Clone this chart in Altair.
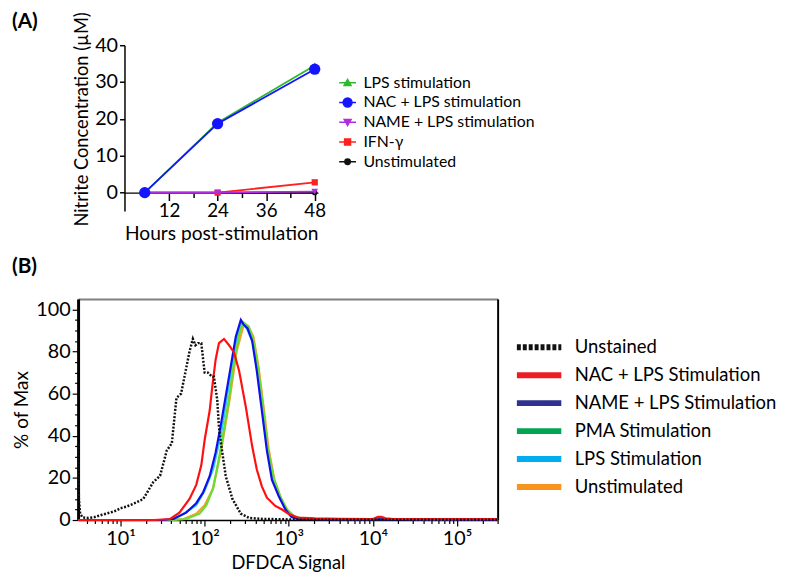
import altair as alt
import pandas as pd

FONT = "Lato"

# ---------------- Panel A data ----------------
hours = [6, 24, 48]
a_series = ["LPS stimulation", "NAC + LPS stimulation", "NAME + LPS stimulation", "IFN-γ", "Unstimulated"]
a_lps = [0, 19.0, 34.5]
a_nac = [0, 18.7, 33.5]
a_name = [0, 0.0, 0.3]
a_ifn = [0, 0.0, 2.8]
a_unst = [0, 0.0, 0.0]
a_colors = ["#2db92d", "#1414ff", "#b32de0", "#ff2020", "#111111"]
a_shapes = ["triangle-up", "circle", "triangle-down", "square", "circle"]
a_sizes = [45, 130, 45, 40, 30]
a_draw_order = [4, 3, 2, 0, 1]
a_legend_paths = [
    "M-1.7,0H1.7M-0.7,0.55L0,-0.65L0.7,0.55Z",
    "M-1.7,0H1.7M0.9,0A0.9,0.9,0,1,1,-0.9,0A0.9,0.9,0,1,1,0.9,0Z",
    "M-1.7,0H1.7M-0.7,-0.55L0,0.65L0.7,-0.55Z",
    "M-1.7,0H1.7M-0.6,-0.6H0.6V0.6H-0.6Z",
    "M-1.7,0H1.7M0.55,0A0.55,0.55,0,1,1,-0.55,0A0.55,0.55,0,1,1,0.55,0Z",
]

a_vals = [a_lps, a_nac, a_name, a_ifn, a_unst]
rows = []
for s, vals in zip(a_series, a_vals):
    for h, v in zip(hours, vals):
        rows.append({"series": s, "hours": h, "value": v})
df_a = pd.DataFrame(rows)

# ---------------- Panel B data (x as log10 of signal) ----------------
b_series = ["Unstained", "NAC + LPS Stimulation", "NAME + LPS Stimulation",
            "PMA Stimulation", "LPS Stimulation", "Unstimulated"]
b_legend_colors = ["#111111", "#ed1c24", "#2e3192", "#00a651", "#00aeef", "#f7941d"]
b_legend_dash = [[4, 2], [1, 0], [1, 0], [1, 0], [1, 0], [1, 0]]
b_plot_colors = ["#111111", "#ff1010", "#1010ee", "#66dd33", "#33c8ff", "#f5a030"]

unst_logx = [0.496, 0.505, 0.52, 0.55, 0.62, 0.69, 0.78, 0.88, 0.95, 1.0, 1.08, 1.19, 1.27,
             1.33, 1.39, 1.47, 1.51, 1.55, 1.61, 1.665, 1.72, 1.78, 1.82, 1.86, 1.89, 1.92,
             1.96, 2.0, 2.04, 2.09, 2.11, 2.15, 2.17, 2.21, 2.25, 2.33, 2.43, 2.53, 2.7,
             2.9, 3.1, 3.5, 4.5, 5.48]
unst_pct = [36, 10, 3, 1.2, 1.0, 1.4, 2.5, 3.6, 4.5, 5.6, 6.5, 8.4, 10, 14, 18, 21, 27, 33, 36.5,
            58, 60, 72, 80, 86, 83, 84, 84, 70, 70, 68, 68, 57, 44, 32, 21, 10, 3, 1.0, 0.5,
            0.4, 0.2, 0.1, 0.1, 0.1]

nac_logx = [0.496, 1.4, 1.59, 1.70, 1.82, 1.90, 1.96, 2.0, 2.06, 2.09, 2.13, 2.17, 2.23, 2.29,
            2.35, 2.41, 2.49, 2.565, 2.62, 2.68, 2.74, 2.84, 2.92, 3.0, 3.11, 3.31, 3.6,
            4.0, 4.06, 4.1, 4.15, 4.25, 5.48]
nac_pct = [0, 0, 0.5, 3.5, 10, 16.7, 26, 38, 52, 63, 76, 84, 86, 83, 79.5, 70.8, 53.6, 35,
           24, 16, 10.6, 6.7, 5, 2.8, 1.2, 0.8, 0.6, 0.5, 1.5, 1.5, 0.8, 0.5, 0.4]

name_logx = [0.496, 1.5, 1.63, 1.78, 1.90, 1.98, 2.06, 2.13, 2.19, 2.25, 2.31, 2.37, 2.43,
             2.46, 2.51, 2.565, 2.62, 2.68, 2.74, 2.80, 2.88, 2.96, 3.03, 3.1, 3.5, 4.4, 5.48]
name_pct = [0, 0, 0.5, 3.5, 8, 13, 20.8, 32, 44.6, 58.7, 72.8, 87, 95, 93, 91, 85, 70.8,
            52, 33, 19, 11.4, 5, 1.5, 0.5, 0.3, 0.3, 0.0]

pma_logx = [0.496, 1.6, 1.78, 1.94, 2.02, 2.10, 2.15, 2.21, 2.29, 2.35, 2.41, 2.455, 2.52,
            2.57, 2.63, 2.69, 2.75, 2.82, 2.90, 2.98, 3.07, 3.2, 3.8, 4.35, 5.48]
pma_pct = [0, 0, 0.5, 3, 7, 15, 25, 38, 58, 75, 88, 94, 92, 87, 74, 55, 34, 20, 11, 5, 1.5,
           0.5, 0.4, 0.5, 0.0]

lps_logx = [0.496, 1.5, 1.62, 1.75, 1.9, 2.0, 2.1, 2.2, 2.3, 2.38, 2.44, 2.5, 2.57, 2.63,
            2.69, 2.75, 2.82, 2.9, 2.98, 3.07, 3.3, 4.3, 5.48]
lps_pct = [0, 0, 0.5, 3, 7, 14, 24, 42, 67, 86, 94, 91, 85, 70, 51, 32, 18, 10, 4.5, 1.2, 0.5,
           0.5, 0.0]

uns_logx = [0.496, 1.6, 1.75, 1.9, 2.0, 2.1, 2.2, 2.3, 2.38, 2.46, 2.52, 2.58, 2.64, 2.7,
            2.76, 2.83, 2.91, 2.99, 3.08, 3.3, 4.3, 5.48]
uns_pct = [0, 0, 0.5, 3, 7, 15, 34, 58, 80, 92, 92, 87, 73, 54, 34, 19, 10, 4, 1.2, 0.5, 0.5,
           0.3]

b_curves = [(unst_logx, unst_pct), (nac_logx, nac_pct), (name_logx, name_pct),
            (pma_logx, pma_pct), (lps_logx, lps_pct), (uns_logx, uns_pct)]
b_draw_order = [5, 4, 3, 2, 1, 0]

rows = []
for s, (lx, pv) in zip(b_series, b_curves):
    for i, (x, y) in enumerate(zip(lx, pv)):
        rows.append({"series": s, "signal": 10 ** x, "pct": y, "i": i})
df_b = pd.DataFrame(rows)

decade_values = [10, 100, 1000, 10000, 100000]
decade_labels = ["10¹", "10²", "10³", "10⁴", "10⁵"]

# ---------------- Panel A chart ----------------
A_W, A_H = 243, 168
A_SHIFT = 47

xa = alt.X("hours:Q",
           scale=alt.Scale(domain=[1, 48.8], rangeMin=A_SHIFT, nice=False, zero=False),
           axis=alt.Axis(values=[6, 12, 18, 24, 30, 36, 42, 48],
                         labelExpr="datum.value % 12 == 0 ? datum.value : ''",
                         tickSize={"condition": {"test": "datum.value % 12 == 0", "value": 8}, "value": 5},
                         offset=-(5 / 45 * A_H), grid=False, labelFlush=False,
                         domainColor="black", domainWidth=1.5, tickColor="black", tickWidth=1.5,
                         labelFontSize=19, labelPadding=1, labelColor="black",
                         title="Hours post-stimulation", titleFontSize=19.4,
                         titleFontWeight="normal", titlePadding=4, titleColor="black"))
ya = alt.Y("value:Q",
           scale=alt.Scale(domain=[-5, 40], nice=False, zero=False),
           axis=alt.Axis(values=[0, 10, 20, 30, 40], offset=-A_SHIFT, grid=False,
                         domainColor="black", domainWidth=1.5, tickColor="black", tickWidth=1.5,
                         tickSize=5, labelFontSize=20, labelPadding=2, labelColor="black",
                         title="Nitrite Concentration (µM)", titleFontSize=18.5,
                         titleFontWeight="normal", titlePadding=3, titleColor="black",
                         titleY=20 / 45 * A_H))

a_layers = []
for idx in a_draw_order:
    s = a_series[idx]
    base = alt.Chart(df_a).transform_filter(alt.datum.series == s)
    a_layers.append(base.mark_line(color=a_colors[idx], strokeWidth=1.8).encode(x=xa, y=ya))
    a_layers.append(base.mark_point(filled=True, shape=a_shapes[idx], size=a_sizes[idx],
                                    color=a_colors[idx], opacity=1).encode(x=xa, y=ya))

leg_a = alt.Legend(title=None, orient="none", legendX=265, legendY=30, symbolSize=100,
                   labelFontSize=16, labelFont=FONT, labelColor="black", labelOffset=8,
                   rowPadding=4, symbolStrokeWidth=1.5, labelLimit=400)
a_leg_layer = alt.Chart(df_a).transform_filter("false").mark_point(
    opacity=1, size=100, strokeWidth=1.5).encode(
    x=xa, y=ya,
    shape=alt.Shape("series:N", scale=alt.Scale(domain=a_series, range=a_legend_paths), legend=leg_a),
    fill=alt.Fill("series:N", scale=alt.Scale(domain=a_series, range=a_colors), legend=leg_a),
    stroke=alt.Stroke("series:N", scale=alt.Scale(domain=a_series, range=a_colors), legend=leg_a),
)

chart_a = alt.layer(*a_layers, a_leg_layer).properties(
    width=A_W, height=A_H,
    title=alt.TitleParams("(A)", anchor="start", frame="group", dx=-67, dy=25,
                          fontSize=21, fontWeight="bold", font=FONT, color="black"))

# ---------------- Panel B chart ----------------
B_W, B_H = 425, 224
tick_vals = [m * 10 ** k for k in range(0, 6) for m in range(1, 10) if 3.13 <= m * 10 ** k <= 304000]
label_expr = " : ".join(f"datum.value == {v} ? '{l}'" for v, l in zip(decade_values, decade_labels)) + " : ''"
dec_test = "indexof([" + ",".join(str(v) for v in decade_values) + "], datum.value) >= 0"

xb_scale = alt.Scale(type="log", domain=[3.13, 304000], nice=False)
yb_scale = alt.Scale(domain=[0, 105], nice=False, zero=False)

xb = alt.X("signal:Q", scale=xb_scale,
           axis=alt.Axis(values=tick_vals, labelExpr=label_expr,
                         tickSize={"condition": {"test": dec_test, "value": 6}, "value": 3.5},
                         grid=False, labelFlush=False, domainColor="black", domainWidth=1.5,
                         tickColor="black", tickWidth=1.2, labelFontSize=20, labelPadding=3,
                         labelColor="black", title="DFDCA Signal", titleFontSize=18.5,
                         titleFontWeight="normal", titlePadding=5, titleColor="black"))
yb = alt.Y("pct:Q", scale=yb_scale,
           axis=alt.Axis(values=list(range(0, 101, 5)),
                         labelExpr="datum.value % 20 == 0 ? datum.value : ''",
                         tickSize={"condition": {"test": "datum.value % 20 == 0", "value": 6}, "value": 3.5},
                         grid=False, domainColor="black", domainWidth=3, tickColor="black",
                         tickWidth=1.2, labelFontSize=20, labelPadding=2, labelColor="black",
                         title="% of Max", titleFontSize=19.2, titleFontWeight="normal",
                         titlePadding=4, titleColor="black"))

b_layers = []
for idx in b_draw_order:
    s = b_series[idx]
    base = alt.Chart(df_b).transform_filter(alt.datum.series == s)
    if s == "Unstained":
        mk = base.mark_line(color=b_plot_colors[idx], strokeWidth=2.5, strokeDash=[2, 1.6])
    else:
        mk = base.mark_line(color=b_plot_colors[idx], strokeWidth=2.2)
    b_layers.append(mk.encode(x=xb, y=yb, order="i:Q"))
curves_b = alt.layer(*b_layers)

leg_b = alt.Legend(title=None, orient="none", legendX=455, legendY=37,
                   symbolType="M-2.5,0H2.5", symbolSize=324, symbolStrokeWidth=6,
                   labelFontSize=18.7, labelFont=FONT, labelColor="black", labelOffset=24,
                   rowPadding=4.3, labelLimit=400)
b_leg_layer = alt.Chart(df_b).transform_filter("false").mark_line().encode(
    x=alt.X("signal:Q", scale=xb_scale,
            axis=alt.Axis(orient="top", ticks=False, labels=False, title=None, grid=False,
                          domainColor="#808080", domainWidth=2)),
    y=alt.Y("pct:Q", scale=yb_scale,
            axis=alt.Axis(orient="right", ticks=False, labels=False, title=None, grid=False,
                          domainColor="black", domainWidth=2)),
    color=alt.Color("series:N", scale=alt.Scale(domain=b_series, range=b_legend_colors), legend=leg_b),
    strokeDash=alt.StrokeDash("series:N", scale=alt.Scale(domain=b_series, range=b_legend_dash), legend=leg_b),
)

chart_b = alt.layer(curves_b, b_leg_layer).resolve_axis(x="independent", y="independent").properties(
    width=B_W, height=B_H,
    title=alt.TitleParams("(B)", anchor="start", frame="group", dx=-67,
                          fontSize=21, fontWeight="bold", font=FONT, color="black", offset=22))

chart = alt.vconcat(chart_a, chart_b, spacing=14).resolve_scale(
    color="independent", fill="independent", stroke="independent",
    shape="independent", strokeDash="independent"
).resolve_legend(
    color="independent", fill="independent", stroke="independent",
    shape="independent", strokeDash="independent"
).properties(
    padding={"left": 4, "top": 0, "right": 0, "bottom": 0}
).configure(font=FONT).configure_view(stroke=None).configure_axis(
    labelFont=FONT, titleFont=FONT)

chart.save("out.html", embed_options={"renderer": "svg", "actions": False})
